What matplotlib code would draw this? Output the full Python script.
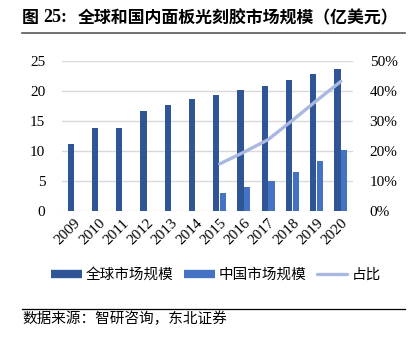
import matplotlib
matplotlib.use("Agg")
import matplotlib.pyplot as plt
from matplotlib.lines import Line2D
import numpy as np

years = ["2009", "2010", "2011", "2012", "2013", "2014", "2015", "2016", "2017", "2018", "2019", "2020"]
global_market = [11.1, 13.9, 13.8, 16.7, 17.6, 18.6, 19.3, 20.2, 20.9, 21.8, 22.8, 23.6]
china_years = ["2015", "2016", "2017", "2018", "2019", "2020"]
china_market = [3.05, 4.0, 4.95, 6.55, 8.4, 10.2]
ratio = [15.7, 19.6, 23.8, 30.2, 36.8, 43.2]

c_global = "#2F5597"
c_china = "#4472C4"
c_ratio = "#A9B8E0"
cjk = ["Noto Sans CJK SC", "DejaVu Sans"]
serif = ["Liberation Serif", "DejaVu Serif"]

fig = plt.figure(figsize=(4.14, 3.44), dpi=100)
W, H = 414, 344
ax = fig.add_axes([62 / W, (H - 211) / H, (353 - 62) / W, 150 / H])

x = np.arange(len(years))
bw = 0.26
idx_c = [years.index(y) for y in china_years]
ax.bar(x - 0.14, global_market, width=bw, color=c_global, zorder=3)
ax.bar(np.array(idx_c) + 0.14, china_market, width=bw, color=c_china, zorder=3)
ax.set_xlim(-0.5, len(years) - 0.5)
ax.set_ylim(0, 25)
ax.set_yticks([0, 5, 10, 15, 20, 25])
ax.grid(axis="y", color="#D9D9D9", linewidth=1, zorder=0)
for s in ax.spines.values():
    s.set_visible(False)
ax.tick_params(length=0)
ax.set_xticks(x)
ax.set_xticklabels(years, rotation=45, ha="right", rotation_mode="anchor",
                   fontfamily=serif, fontsize=11)
for lbl in ax.get_yticklabels():
    lbl.set_fontfamily(serif)
    lbl.set_fontsize(11)
ax.tick_params(axis="y", pad=12)
ax.tick_params(axis="x", pad=4)

ax2 = ax.twinx()
ax2.plot(idx_c, ratio, color=c_ratio, linewidth=2.4, solid_capstyle="round", zorder=4)
ax2.set_ylim(0, 50)
ax2.set_yticks([0, 10, 20, 30, 40, 50])
ax2.set_yticklabels([f"{v}%" for v in [0, 10, 20, 30, 40, 50]], fontfamily=serif, fontsize=11)
ax2.tick_params(length=0, pad=12)
for s in ax2.spines.values():
    s.set_visible(False)

# title
fig.text(22 / W, 1 - 18 / H, "图", fontfamily=cjk, fontsize=12.2, fontweight="bold",
         va="center", ha="left")
fig.text(43 / W, 1 - 18 / H, "25:", fontfamily=serif, fontsize=13, fontweight="bold",
         va="center", ha="left")
fig.text(78 / W, 1 - 18 / H, "全球和国内面板光刻胶市场规模（亿美元）",
         fontfamily=cjk, fontsize=12.2, fontweight="bold", va="center", ha="left")
fig.add_artist(Line2D([22 / W, 405 / W], [1 - 32.5 / H] * 2, color="#595959", linewidth=1.2))

# legend
handles = [
    Line2D([], [], color=c_global, linewidth=6, solid_capstyle="butt"),
    Line2D([], [], color=c_china, linewidth=6, solid_capstyle="butt"),
    Line2D([], [], color=c_ratio, linewidth=2.4, solid_capstyle="round"),
]
fig.legend(handles, ["全球市场规模", "中国市场规模", "占比"], ncol=3, frameon=False,
           loc="center", bbox_to_anchor=(216 / W, 1 - 275 / H), prop={"family": cjk, "size": 10.5},
           handlelength=2.1, columnspacing=0.7, handletextpad=0.3)

# footer
fig.add_artist(Line2D([22 / W, 405 / W], [1 - 308.5 / H] * 2, color="black", linewidth=0.9))
fig.text(22 / W, 1 - 319 / H, "数据来源：智研咨询，东北证券", fontfamily=cjk, fontsize=10.5,
         va="center", ha="left")

fig.savefig("out.png", dpi=100)
